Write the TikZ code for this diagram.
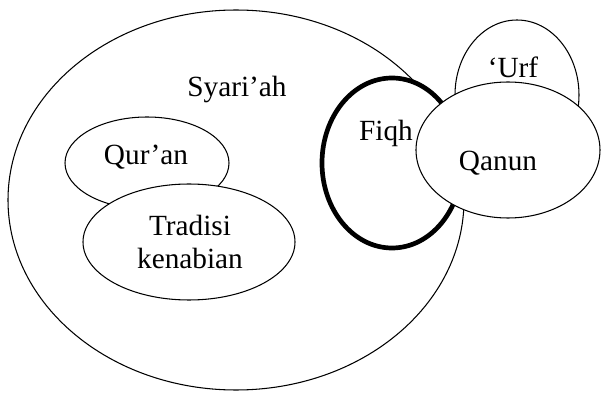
\documentclass[tikz,border=0pt]{standalone}
\usepackage{fontspec}
\setmainfont{Liberation Serif}
\usepackage{tikz}
\usetikzlibrary{shapes.geometric}

\begin{document}
\begin{tikzpicture}[x=0.03cm,y=-0.03cm,font=\fontsize{25}{27}\selectfont]
 \useasboundingbox (0,0) rectangle (602,396);
 \tikzset{circ/.style={ellipse,draw,fill=white,line width=0.9pt,inner sep=0pt}}
 \node [circ,minimum width=456*0.03cm,minimum height=380*0.03cm] (S)at (236,200){};
 \node [circ,minimum width=164*0.03cm,minimum height=92*0.03cm] (Q)at (147,163){};
 \node [circ,minimum width=212*0.03cm,minimum height=116*0.03cm] (T)at (189,242){};
 \node [circ,line width=4pt,minimum width=140*0.03cm,minimum height=170*0.03cm] (F)at (392,163){};
 \node [circ,minimum width=124*0.03cm,minimum height=150*0.03cm] (U)at (517,95){};
 \node [circ,minimum width=184*0.03cm,minimum height=136*0.03cm] (N)at (508,150){};

 \draw (237,90) node {Syari’ah};
 \draw (146,157) node {Qur’an};
 \draw (190,242) node[align=center] {Tradisi\\[1pt]kenabian};
 \draw (386,133) node {Fiqh};
 \draw (513,67) node {‘Urf};
 \draw (498,163) node {Qanun};
\end{tikzpicture}
\end{document}
